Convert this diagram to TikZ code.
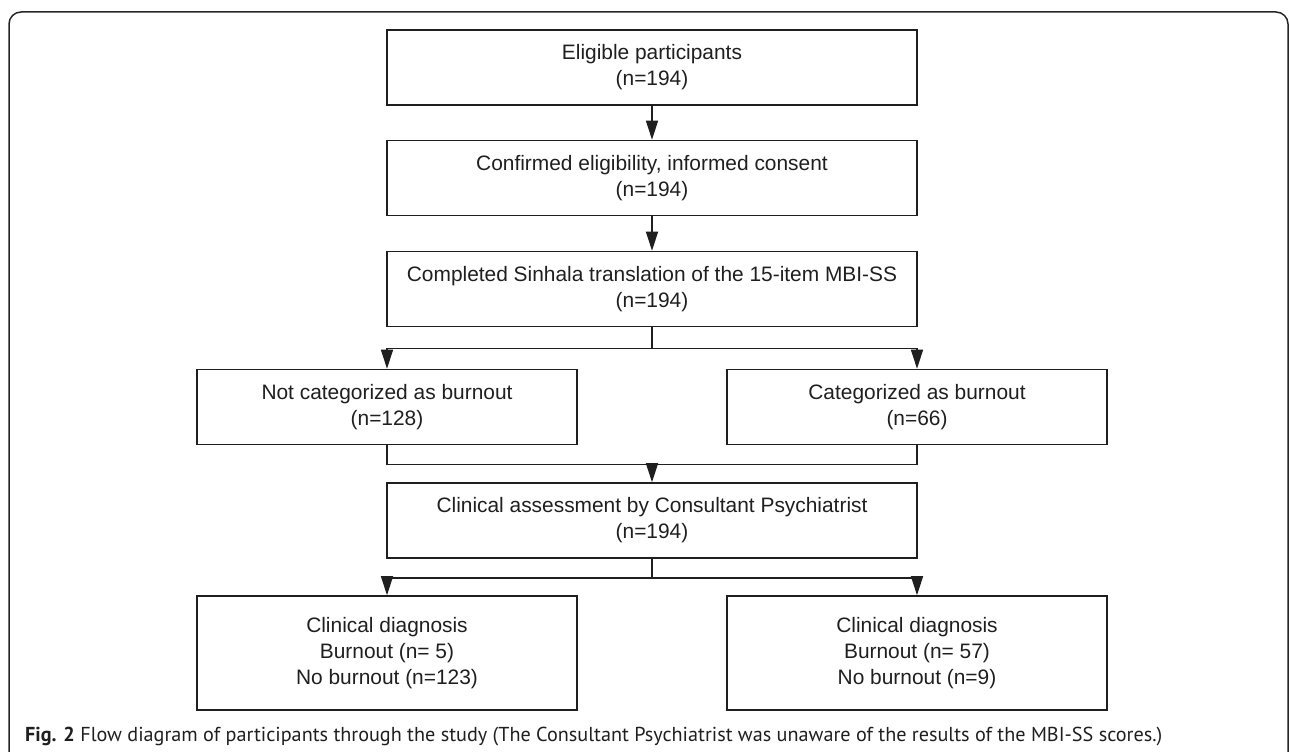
\documentclass[tikz,border=0pt]{standalone}
\usepackage{fontspec}
\setmainfont{Liberation Sans}
\newfontfamily\capfont{PT Sans}
\usetikzlibrary{arrows.meta}
\begin{document}
\begin{tikzpicture}[x=1pt,y=-1pt,
  flowbox/.style={draw=black!88, line width=1.6pt, align=center, text=black!88,
    font=\fontsize{20.9}{26}\selectfont, inner sep=0pt},
  widebox/.style={flowbox, minimum width=530pt, minimum height=75pt},
  sidebox/.style={flowbox, minimum width=380pt, minimum height=75pt},
  diagbox/.style={flowbox, minimum width=380pt, minimum height=114pt},
  conn/.style={line width=1.6pt, draw=black!88},
  arr/.style={conn, -{Triangle[length=19pt,width=12pt]}}]
\useasboundingbox (0,0) rectangle (1290,752);
% frame
\draw[line width=1.5pt, draw=black!85, rounded corners=12pt] (9,800) -- (9,12) -- (1288,12) -- (1288,800);
% boxes
\node[widebox] (b1) at (652,67.3) {Eligible participants\\(n=194)};
\node[widebox] (b2) at (652,178) {Confirmed eligibility, informed consent\\(n=194)};
\node[widebox] (b3) at (652,289) {Completed Sinhala translation of the 15-item MBI-SS\\(n=194)};
\node[sidebox] (b4) at (387,407) {Not categorized as burnout\\(n=128)};
\node[sidebox] (b5) at (917,407) {Categorized as burnout\\(n=66)};
\node[widebox] (b6) at (652,520.5) {Clinical assessment by Consultant Psychiatrist\\(n=194)};
\node[diagbox] (b7) at (387,653) {Clinical diagnosis\\Burnout (n= 5)\\No burnout (n=123)};
\node[diagbox] (b8) at (917,653) {Clinical diagnosis\\Burnout (n= 57)\\No burnout (n=9)};
% connectors
\draw[arr] (b1.south) -- (b2.north);
\draw[arr] (b2.south) -- (b3.north);
\draw[conn] (b3.south) -- ++(0,21) coordinate (s1);
\draw[arr] (s1) -| (b4.north);
\draw[arr] (s1) -| (b5.north);
\draw[conn] (b4.south) -- ++(0,19) coordinate (m1) -| (b5.south);
\coordinate (m2) at (b6.north |- m1);
\draw[arr] (m2) -- (b6.north);
\draw[conn] (b6.south) -- ++(0,19) coordinate (s2);
\draw[arr] (s2) -| (b7.north);
\draw[arr] (s2) -| (b8.north);
% caption
\node[anchor=base west, inner sep=0pt, text=black!88] (cap) at (25,741)
  {\resizebox{1137pt}{!}{\capfont\fontsize{19}{22}\selectfont\textbf{Fig. 2} Flow diagram of participants through the study (The Consultant Psychiatrist was unaware of the results of the MBI-SS scores.)}};
\end{tikzpicture}
\end{document}
